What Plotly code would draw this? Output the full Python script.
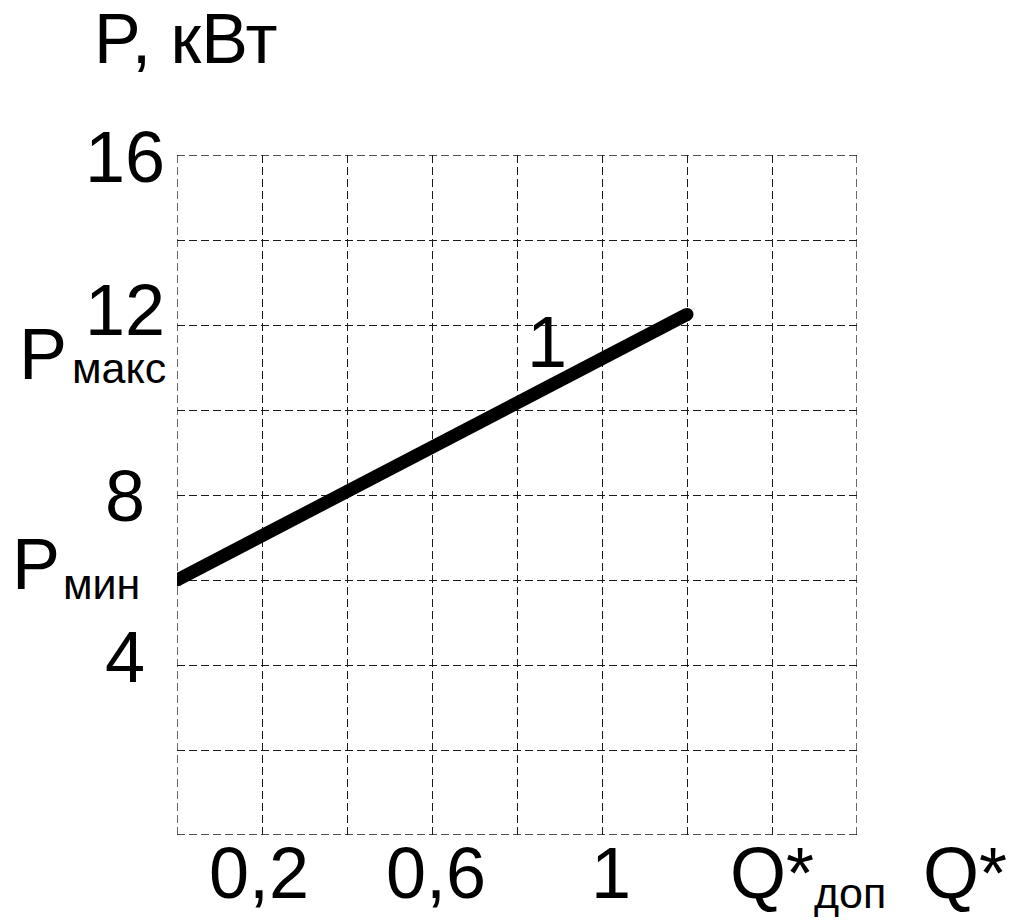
import plotly.graph_objects as go

# ---- data ----
q_values = [0.0, 1.2]          # Q*
p_values = [6.0, 12.25]        # P, кВт
curve_label = "1"
curve_label_pos = (0.87, 11.55)

x_grid = [0.0, 0.2, 0.4, 0.6, 0.8, 1.0, 1.2, 1.4, 1.6]
y_grid = [0, 2, 4, 6, 8, 10, 12, 14, 16]

x_tick_vals = [0.2, 0.6, 1.0]
x_tick_text = ["0,2", "0,6", "1"]
y_tick_vals = [4, 8, 12, 16]
y_tick_text = ["4", "8", "12", "16"]

q_dop = 1.4
p_max_level = 11.3
p_min_level = 6.0

FONT = "Liberation Sans, Arial, sans-serif"
BIG = 72
SUB = 43

# page body has an 8px margin, so the figure is 8px smaller than the window
W, H = 1007, 912
ML, MR, MT, MB = 169, 158, 147, 85
XR = [0, 1.6]
YR = [0, 16]

GRID_COLOR = "#1a1a1a"
GRID_DASH = "8px,4px"
GRID_W = 1.3

fig = go.Figure()
fig.add_trace(go.Scatter(
    x=q_values, y=p_values, mode="lines+markers",
    line=dict(color="black", width=13),
    marker=dict(color="black", size=13),
    hoverinfo="skip", showlegend=False))

ann = []
def add(text, x, y, size, dx=0, dy=0, xanchor="center"):
    ann.append(dict(text=text, x=x, y=y, xref="x", yref="y", xshift=dx, yshift=dy,
                    xanchor=xanchor, yanchor="middle", showarrow=False,
                    font=dict(family=FONT, size=size, color="black")))

# x tick labels
x_dx = [-3, 4, 9]
for v, t, d in zip(x_tick_vals, x_tick_text, x_dx):
    add(t, v, 0, BIG, dx=d, dy=-38)
add("Q*", q_dop, 0, BIG, dx=0, dy=-38)
add("доп", q_dop, 0, SUB, dx=40, dy=-58, xanchor="left")
add("Q*", 1.6, 0, BIG, dx=108, dy=-38)

# y tick labels
y_dy = [8, -1, 15, -2]
for v, t, d in zip(y_tick_vals, y_tick_text, y_dy):
    add(t, 0, v, BIG, dx=-52, dy=d)
# P_max / P_min
add("P", 0, p_max_level, BIG, dx=-134, dy=1)
add("макс", 0, p_max_level, SUB, dx=-107, dy=-13, xanchor="left")
add("P", 0, p_min_level, BIG, dx=-141, dy=16)
add("мин", 0, p_min_level, SUB, dx=-116, dy=-4, xanchor="left")

# curve label
add(curve_label, curve_label_pos[0], curve_label_pos[1], BIG, dy=2)

# axis title
ann.append(dict(text="P, кВт", x=0, y=16, xref="x", yref="y", xshift=9, yshift=116,
                xanchor="center", yanchor="middle", showarrow=False,
                font=dict(family=FONT, size=70, color="black")))

# outer grid lines (plotly skips gridlines lying exactly on the range edges)
shapes = []
for xv in (x_grid[0], x_grid[-1]):
    shapes.append(dict(type="line", xref="x", yref="y", x0=xv, x1=xv, y0=y_grid[0], y1=y_grid[-1],
                       line=dict(color=GRID_COLOR, width=GRID_W, dash=GRID_DASH), layer="below"))
for yv in (y_grid[0], y_grid[-1]):
    shapes.append(dict(type="line", xref="x", yref="y", x0=x_grid[0], x1=x_grid[-1], y0=yv, y1=yv,
                       line=dict(color=GRID_COLOR, width=GRID_W, dash=GRID_DASH), layer="below"))

axis_common = dict(showticklabels=False, ticks="", showgrid=True, gridcolor=GRID_COLOR,
                   gridwidth=GRID_W, griddash=GRID_DASH, zeroline=False, showline=False,
                   fixedrange=True)
fig.update_layout(
    width=W, height=H,
    margin=dict(l=ML, r=MR, t=MT, b=MB, pad=0),
    paper_bgcolor="white", plot_bgcolor="white",
    xaxis=dict(range=XR, tickmode="array", tickvals=x_grid, **axis_common),
    yaxis=dict(range=YR, tickmode="array", tickvals=y_grid, **axis_common),
    annotations=ann,
    shapes=shapes,
    showlegend=False,
)
fig.write_html("out.html")
